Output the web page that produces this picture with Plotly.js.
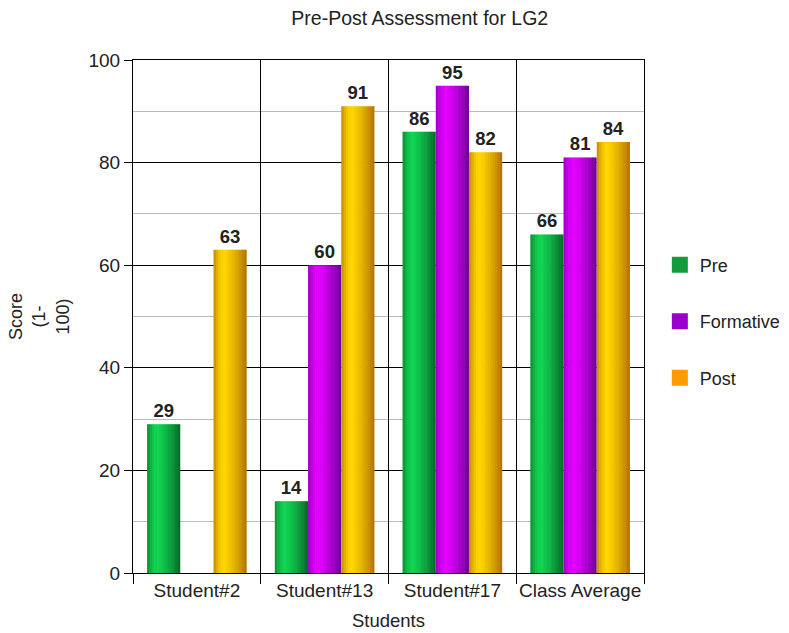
<!DOCTYPE html>
<html><head><meta charset="utf-8">
<script src="https://cdn.plot.ly/plotly-3.0.1.min.js"></script>
<style>body{margin:0;background:#fff}#c{width:789px;height:633px}</style>
</head><body><div id="c"></div>
<script>
const categories = ["Student#2", "Student#13", "Student#17", "Class Average"];
const preValues = [29, 14, 86, 66];
const formativeValues = [null, 60, 95, 81];
const postValues = [63, 91, 82, 84];
const seriesNames = ["Pre", "Formative", "Post"];

// style: cylinder shading stops (left edge, highlight, right edge)
const shades = [
  {l: [14, 140, 52], p: [16, 212, 82], r: [8, 100, 38]},
  {l: [150, 0, 190], p: [228, 0, 255], r: [105, 0, 150]},
  {l: [196, 136, 0], p: [255, 214, 0], r: [176, 112, 0]}
];
const legendColors = ["#139a3c", "#9a00cc", "#ff9a00"];
const series = [preValues, formativeValues, postValues];

const barW = 0.26, nStrips = 14, peakPos = 0.32;
function mix(a, b, t) { return a.map((v, k) => Math.round(v + (b[k] - v) * t)); }
function shadeAt(s, f) {
  let c;
  if (f <= peakPos) { const t = f / peakPos; c = mix(s.l, s.p, Math.sin(t * Math.PI / 2)); }
  else { const t = (f - peakPos) / (1 - peakPos); c = mix(s.p, s.r, t * t * 0.4 + t * 0.6); }
  return "rgb(" + c.join(",") + ")";
}

const traces = [];
series.forEach((vals, i) => {
  const base = -1.5 * barW + i * barW;
  traces.push({
    type: "bar", x: categories, y: vals, name: seriesNames[i], showlegend: false,
    width: barW, offset: base,
    marker: {color: "rgba(0,0,0,0)", line: {width: 0}},
    text: vals.map(v => v === null ? "" : String(v)),
    textposition: "outside", cliponaxis: false,
    texttemplate: "<b>%{text}</b>",
    textfont: {family: "Liberation Sans, Arial, sans-serif", size: 18.5, color: "#222"}
  });
  const sw = barW / nStrips;
  for (let k = 0; k < nStrips; k++) {
    const f = (k + 0.5) / nStrips;
    traces.push({
      type: "bar", x: categories, y: vals, name: seriesNames[i], showlegend: false,
      width: k < nStrips - 1 ? sw * 1.25 : sw, offset: base + k * sw,
      marker: {color: shadeAt(shades[i], f), line: {width: 0}},
      hoverinfo: "skip"
    });
  }
});
series.forEach((vals, i) => {
  traces.push({
    type: "scatter", mode: "markers", x: [categories[0]], y: [null],
    name: seriesNames[i], legendgroup: "g" + i,
    marker: {symbol: "square", size: 18, color: legendColors[i]}
  });
});

const layout = {
  width: 789, height: 633,
  paper_bgcolor: "#fff", plot_bgcolor: "#fff",
  margin: {l: 133, r: 145, t: 60, b: 60, autoexpand: false},
  font: {family: "Liberation Sans, Arial, sans-serif", size: 19, color: "#222"},
  title: {text: "Pre-Post Assessment for LG2", x: 0.532, xanchor: "center", y: 0.972, yanchor: "middle",
          font: {size: 19.5, color: "#222"}},
  barmode: "overlay",
  xaxis: {
    type: "category", tickson: "boundaries", ticks: "outside", ticklen: 10, tickcolor: "#000",
    tickangle: 0,
    showgrid: true, gridcolor: "#000", gridwidth: 1,
    showline: true, linecolor: "#000", mirror: true,
    tickfont: {size: 19, color: "#222"},
    title: {text: "Students", font: {size: 18.5, color: "#222"}, standoff: 14},
    fixedrange: true
  },
  yaxis: {
    range: [0, 100], dtick: 20, ticks: "outside", ticklen: 8, tickcolor: "#000",
    showgrid: true, gridcolor: "#000", gridwidth: 1,
    minor: {dtick: 10, showgrid: true, gridcolor: "#bbb", gridwidth: 1, ticks: ""},
    showline: true, linecolor: "#000", mirror: true, zeroline: false,
    tickfont: {size: 19, color: "#222"},
    title: {text: "Score<br>(1-<br>100)", font: {size: 18, color: "#222"}, standoff: 14},
    fixedrange: true
  },
  legend: {
    x: 1.031, xanchor: "left", y: 0.49, yanchor: "middle",
    traceorder: "grouped", tracegroupgap: 30,
    font: {size: 18, color: "#222"}, bgcolor: "rgba(0,0,0,0)"
  }
};
Plotly.newPlot("c", traces, layout, {displayModeBar: false, staticPlot: true});
</script>
</body></html>
